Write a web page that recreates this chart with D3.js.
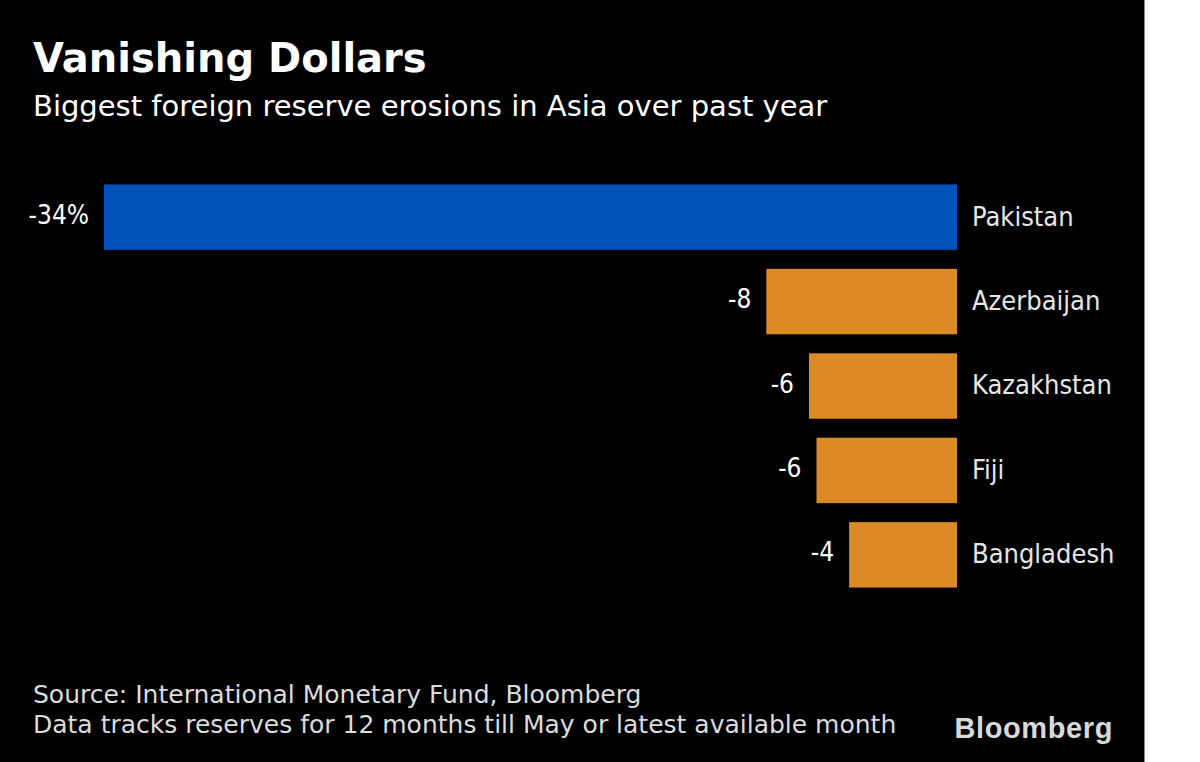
<!DOCTYPE html>
<html>
<head>
<meta charset="utf-8">
<script src="https://cdn.jsdelivr.net/npm/d3@7"></script>
<style>
  html, body { margin: 0; padding: 0; background: #fff; }
  svg { display: block; }
</style>
</head>
<body>
<script>
const countries = ["Pakistan", "Azerbaijan", "Kazakhstan", "Fiji", "Bangladesh"];
const changes = [-34, -7.6, -5.9, -5.6, -4.3];
const valueLabels = ["-34%", "-8", "-6", "-6", "-4"];
const highlight = ["Pakistan"];

const W = 1200, H = 762;
const svg = d3.select("body").append("svg").attr("width", W).attr("height", H);

svg.append("rect").attr("x", 0).attr("y", 0).attr("width", 1144).attr("height", H).attr("fill", "#000");
svg.append("line").attr("x1", 1144.5).attr("x2", 1144.5).attr("y1", 0).attr("y2", H).attr("stroke", "#888").attr("stroke-width", 1);

svg.append("text").attr("x", 33).attr("y", 72)
  .attr("font-family", "DejaVu Sans").attr("font-weight", "bold").attr("font-size", 40)
  .attr("fill", "#fff").text("Vanishing Dollars");
svg.append("text").attr("x", 33).attr("y", 116)
  .attr("font-family", "DejaVu Sans").attr("font-size", 29)
  .attr("fill", "#fff").text("Biggest foreign reserve erosions in Asia over past year");

const x = d3.scaleLinear().domain([-34, 0]).range([104, 957]);
const y = d3.scaleBand().domain(countries).range([176, 596]).paddingInner(0.225).paddingOuter(0.1);

const data = countries.map((c, i) => ({ c, v: changes[i], lab: valueLabels[i] }));

const g = svg.append("g");
g.selectAll("rect.bar").data(data).join("rect").attr("class", "bar")
  .attr("x", d => x(d.v)).attr("width", d => x(0) - x(d.v))
  .attr("y", d => y(d.c)).attr("height", y.bandwidth())
  .attr("fill", d => highlight.includes(d.c) ? "#0052bb" : "#dc8a25");

g.selectAll("text.val").data(data).join("text").attr("class", "val")
  .attr("x", d => x(d.v) - 15).attr("y", d => y(d.c) + y.bandwidth() / 2)
  .attr("dy", "0.25em")
  .attr("text-anchor", "end")
  .attr("font-family", "DejaVu Sans Condensed").attr("font-size", 26)
  .attr("fill", "#fff").text(d => d.lab);

g.selectAll("text.cat").data(data).join("text").attr("class", "cat")
  .attr("x", x(0) + 15).attr("y", d => y(d.c) + y.bandwidth() / 2)
  .attr("dy", "0.31em")
  .attr("font-family", "DejaVu Sans Condensed").attr("font-size", 27)
  .attr("fill", "#e6e6e6").text(d => d.c);

svg.append("text").attr("x", 33).attr("y", 703)
  .attr("font-family", "DejaVu Sans").attr("font-size", 25)
  .attr("fill", "#dcdcdc").text("Source: International Monetary Fund, Bloomberg");
svg.append("text").attr("x", 33).attr("y", 733)
  .attr("font-family", "DejaVu Sans").attr("font-size", 25)
  .attr("fill", "#dcdcdc").text("Data tracks reserves for 12 months till May or latest available month");

svg.append("text").attr("x", 1113).attr("y", 738).attr("text-anchor", "end")
  .attr("font-family", "Liberation Sans").attr("font-weight", "bold").attr("font-size", 29)
  .attr("letter-spacing", 0.6)
  .attr("fill", "#d9d9d9").text("Bloomberg");
</script>
</body>
</html>
